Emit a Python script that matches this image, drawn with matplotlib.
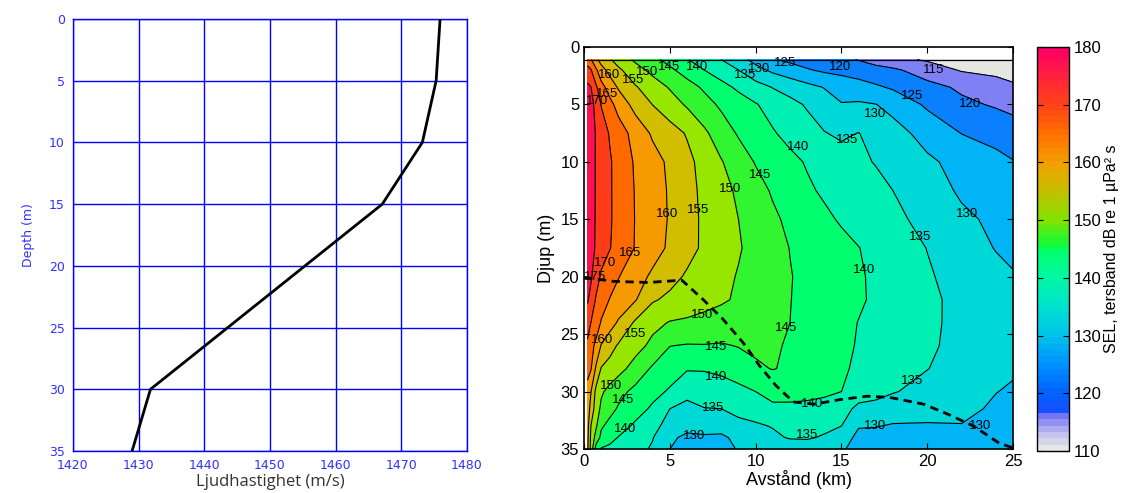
import numpy as np
import matplotlib
matplotlib.use("Agg")
import matplotlib.pyplot as plt
from matplotlib.colors import LinearSegmentedColormap, Normalize
from matplotlib.cm import ScalarMappable

plt.rcParams["font.family"] = ["Liberation Sans", "DejaVu Sans"]

# ----------------------------
# Sound speed profile
# ----------------------------
profile_depth = [0, 5, 10, 15, 30, 35]
profile_speed = [1475.9, 1475.3, 1473.2, 1467.1, 1431.8, 1429.0]

# ----------------------------
# SEL field (dB re 1 uPa^2 s), rows = depth, columns = range
# ----------------------------
range_km = [0.2, 0.4, 0.7, 1, 1.5, 2, 3, 4, 5, 6, 7, 8, 9, 10, 11, 12, 13,
            14, 15, 16, 17, 18, 20, 22, 24, 25]
depth_m = [1.1, 2, 3.5, 5, 7.5, 10, 12.5, 15, 17.5, 20, 22, 24, 26, 28, 30,
           31.5, 33, 34, 35]

sel_z01 = [167, 165.5, 161, 158.2, 155.5, 153, 149.1, 146.3, 143.4, 140.3, 137.6, 135, 131.8, 128.5, 125.3, 124, 123, 122, 120.9, 119.8, 118, 116.2, 114.5, 113.5, 112.5, 112]
sel_z02 = [172, 170.4, 165.8, 161.8, 158.4, 155.9, 151.9, 148.6, 145.9, 143, 140, 137.5, 135, 131.6, 129, 127.2, 125.4, 124.2, 123.4, 122.6, 121.7, 120.9, 117.5, 114.6, 113.9, 113.5]
sel_z03 = [176, 175.1, 170.8, 166.8, 162.8, 159.5, 155.4, 152.5, 149.6, 146.9, 144.3, 141.6, 139.1, 136.9, 134.8, 133.1, 131.4, 129.8, 128.4, 127.1, 125.7, 124.4, 121.6, 119.2, 116.8, 115.6]
sel_z05 = [177, 176.4, 173.8, 169.8, 166.5, 163.2, 158.2, 154.9, 152.2, 149.4, 146.7, 144.2, 142.3, 140.3, 138.3, 136.4, 134.5, 132.3, 130.2, 130.6, 130.1, 128.5, 124.2, 121, 119.5, 118.5]
sel_z07 = [178.5, 176.7, 174.7, 172.4, 169.6, 167.4, 163.1, 159.3, 157.0, 154.6, 150.9, 147.4, 144.5, 142.4, 140.4, 138.6, 136.9, 135.2, 134.2, 135.1, 133.5, 131.8, 128.3, 124.9, 123.3, 122.5]
sel_z10 = [179, 177, 174.6, 172.8, 170.5, 168.3, 164.4, 161.8, 159.1, 156.3, 153.3, 150.3, 147.4, 144.7, 142.9, 141.2, 139.6, 138.3, 137.0, 135.7, 134.8, 133.6, 130.8, 128.5, 126.4, 125.2]
sel_z12 = [179, 177, 174.6, 172.8, 170.5, 168.4, 164.7, 162.1, 159.5, 156.6, 153.9, 151.6, 149.2, 146.7, 144.5, 142.6, 140.7, 139.35, 138.3, 137.2, 136.1, 135, 132.0, 129.4, 127.9, 127]
sel_z15 = [179, 177, 174.5, 172.7, 170.5, 168.5, 164.8, 162.2, 159.6, 156.7, 154.2, 152.1, 150, 147.9, 145.8, 144.05, 142.5, 140.9, 139.5, 138.4, 137.2, 136.1, 133.6, 130.8, 129.2, 128.5]
sel_z17 = [178.5, 176.5, 174.5, 172.6, 170.2, 168.3, 164.7, 162, 159.2, 156.6, 154.2, 152.3, 150.4, 148.5, 146.7, 144.9, 143.7, 142.5, 141.3, 140.1, 138.8, 137.5, 134.9, 132.3, 129.8, 129.4]
sel_z20 = [177, 175.6, 172.5, 169.2, 167.2, 165.2, 162, 159.1, 156.5, 154.4, 152.8, 151.2, 149.7, 148.2, 146.7, 145.2, 143.95, 142.8, 141.6, 140.5, 139.25, 138, 135.5, 133.3, 131.3, 130.2]
sel_z22 = [175.5, 173.6, 169.4, 167.3, 164.8, 163.3, 160.3, 155.5, 154, 152.9, 151.7, 150.6, 149.4, 147.9, 146.5, 145.1, 143.9, 142.8, 141.6, 140.5, 139.4, 138.2, 136, 133.7, 131.6, 130.5]
sel_z24 = [172.5, 170, 167.6, 164.6, 162.1, 159.4, 154.2, 151.4, 149.7, 149.2, 148.5, 147.9, 147.1, 146.3, 145.6, 145, 143.7, 142.4, 141.1, 139.9, 138.9, 137.9, 135.9, 133.8, 131.7, 130.6]
sel_z26 = [169, 166.6, 163.9, 159.7, 156.8, 154.5, 151.8, 148.75, 145.1, 144.7, 144.8, 144.6, 145.2, 146, 145.6, 144.5, 143.3, 142.1, 140.9, 139.7, 138.7, 137.7, 135.7, 133.7, 131.6, 130.6]
sel_z28 = [166, 165.4, 159.2, 154.7, 153.2, 151.7, 148, 144.3, 142.3, 140.4, 140.5, 141.3, 142.6, 144.2, 145.2, 144.3, 143.2, 141.8, 140.5, 139.4, 138.3, 137.3, 135.1, 133.3, 131.4, 130.5]
sel_z30 = [164, 160.2, 153.7, 150.7, 148.5, 146.5, 143.7, 141.5, 139.4, 136.2, 136.3, 137.2, 138.6, 140.0, 140.8, 141.1, 141.1, 140.7, 140, 138.4, 136.9, 135.3, 133.5, 131.8, 130.1, 129.5]
sel_z31 = [163, 158.2, 152.6, 149, 146.5, 144.5, 142, 139.2, 135, 133.8, 134.9, 135, 136, 136.7, 139.5, 139.3, 139, 138.6, 137.7, 133.3, 133, 132.4, 132, 131.2, 129.3, 128.7]
sel_z33 = [162, 155, 150.7, 145.6, 143.6, 142.1, 139.1, 136.2, 133.5, 131.2, 131.7, 131.5, 134, 134.5, 135.2, 136.9, 136.6, 135.9, 135, 130.2, 130.2, 129.6, 129.5, 129.8, 128.4, 128]
sel_z34 = [161.5, 154, 148, 143.9, 141.7, 139.8, 137.5, 135.2, 130.7, 129.2, 129.4, 129.3, 131, 133, 134.3, 135.3, 135.4, 134.6, 131.5, 129.2, 128.5, 128, 127.5, 128.0, 127.5, 127]
sel_z35 = [161, 153.5, 142.8, 139.6, 138.8, 138, 136.4, 134.5, 130, 128.3, 128.5, 128.5, 130.3, 131.2, 132.2, 132.8, 133, 132.4, 130.6, 128.3, 126.5, 125.7, 125.5, 126.2, 126.5, 126.3]

sel_db = np.array([sel_z01, sel_z02, sel_z03, sel_z05, sel_z07, sel_z10, sel_z12,
                   sel_z15, sel_z17, sel_z20, sel_z22, sel_z24, sel_z26, sel_z28,
                   sel_z30, sel_z31, sel_z33, sel_z34, sel_z35])

# dashed line across the section
dash_range = [0.0, 1.7, 3.75, 5.7, 6.95, 8.1, 9.3, 10.25, 11.2, 12.2, 13.4,
              14.9, 16.5, 17.8, 19.8, 21.1, 22.7, 24.2, 25.0]
dash_depth = [20.05, 20.4, 20.5, 20.3, 22.0, 23.7, 25.8, 27.8, 29.5, 30.9, 31.1,
              30.7, 30.4, 30.5, 31.1, 31.9, 33.0, 34.5, 34.9]

# contour labels: level and where it sits
label_level = [160, 155, 150, 145, 140, 135, 130, 125, 120, 115, 165, 170, 125,
               120, 130, 135, 140, 145, 150, 155, 160, 130, 135, 140, 165, 170,
               175, 160, 155, 150, 145, 145, 140, 135, 130, 150, 145, 140, 140,
               135, 135, 130, 130]
label_range = [1.45, 2.85, 3.67, 4.93, 6.6, 9.4, 10.2, 11.7, 14.9, 20.35, 1.34,
               0.76, 19.1, 22.5, 16.96, 15.3, 12.5, 10.26, 8.5, 6.65, 4.82, 22.3,
               19.6, 16.3, 2.7, 1.2, 0.64, 1.03, 2.97, 6.85, 11.8, 7.7, 7.7, 7.5,
               6.4, 1.6, 2.3, 2.4, 13.3, 13.0, 19.1, 16.95, 23.1]
label_depth = [2.45, 2.9, 2.2, 1.7, 1.7, 2.4, 1.9, 1.4, 1.7, 2.0, 4.1, 4.7, 4.3,
               5.0, 5.8, 8.1, 8.7, 11.1, 12.4, 14.2, 14.5, 14.5, 16.5, 19.4,
               17.9, 18.8, 20.0, 25.5, 25.0, 23.3, 24.5, 26.1, 28.7, 31.4, 33.9,
               29.5, 30.7, 33.3, 31.05, 33.8, 29.1, 33.0, 33.0]

levels = np.arange(110, 185, 5)
band_colors = ["#e6e6e0", "#8080f5", "#0a80ff", "#00b4f5", "#00d8d8",
               "#00f0b4", "#00ff6e", "#30f530", "#96e600", "#d2be00",
               "#f59a00", "#ff6a00", "#ff3c18", "#ff1050"]

cbar_values = [110, 112, 114, 115.5, 116.5, 120, 125, 130, 135, 140, 144.5,
               145, 147, 150, 155, 160, 165, 170, 175, 180]
cbar_colors = ["#e6e6e6", "#c8c8ee", "#9c9cf0", "#7878f4", "#1450ff", "#0064ff",
               "#0094ff", "#00c4e8", "#00e2cc", "#00f8a4", "#00ff70", "#00ff48",
               "#30f428", "#80e400", "#c4c000", "#f2a000", "#ff7200", "#ff4418",
               "#ff2438", "#ff0064"]

fig = plt.figure(figsize=(11.21, 4.93), dpi=100)

# ----------------------------
# Left: sound speed profile
# ----------------------------
ax1 = fig.add_axes([0.0651, 0.0852, 0.3515, 0.8763])
ax1.plot(profile_speed, profile_depth, color="black", lw=2.0, zorder=3)
ax1.set_xlim(1420, 1480)
ax1.set_ylim(35, 0)
ax1.set_xticks(np.arange(1420, 1481, 10))
ax1.set_yticks(np.arange(0, 36, 5))
ax1.grid(True, color="#0000ff", lw=1.0)
for sp in ax1.spines.values():
    sp.set_color("#0000ff")
    sp.set_linewidth(1.0)
ax1.tick_params(length=0, pad=6, labelsize=9, labelcolor="#3030ff")
for t in ax1.get_xticklabels() + ax1.get_yticklabels():
    t.set_family("DejaVu Sans")
ax1.set_ylabel("Depth (m)", color="#3030ff", fontsize=9, family="DejaVu Sans",
               labelpad=10)
ax1.set_xlabel("Ljudhastighet (m/s)", color="#333333", fontsize=12,
               family="Open Sans", labelpad=1)

# ----------------------------
# Right: SEL section
# ----------------------------
ax2 = fig.add_axes([0.521, 0.0892, 0.3827, 0.8154])
R, Z = np.meshgrid(range_km, depth_m)
ax2.contourf(R, Z, sel_db, levels=levels, colors=band_colors)
cs = ax2.contour(R, Z, sel_db, levels=levels, colors="black", linewidths=0.8)
ax2.axhline(depth_m[0], color="black", lw=0.9)

ax2.plot(dash_range, dash_depth, color="black", lw=2, linestyle=(0, (3, 2)))

for lev, r0, z0 in zip(label_level, label_range, label_depth):
    ax2.text(r0, z0, f"{lev}", ha="center", va="center", fontsize=9.5, zorder=5)

ax2.set_xlim(0, 25)
ax2.set_ylim(35, 0)
ax2.set_xticks(np.arange(0, 26, 5))
ax2.set_yticks(np.arange(0, 36, 5))
ax2.tick_params(direction="in", top=True, right=True, length=4, labelsize=12)
for sp in ax2.spines.values():
    sp.set_linewidth(1.2)
ax2.set_xlabel("Avstånd (km)", fontsize=13, labelpad=1)
ax2.set_ylabel("Djup (m)", fontsize=13, labelpad=4)

# ----------------------------
# Colorbar
# ----------------------------
span = cbar_values[-1] - cbar_values[0]
cmap = LinearSegmentedColormap.from_list(
    "sel", [((v - cbar_values[0]) / span, c) for v, c in zip(cbar_values, cbar_colors)],
    N=64)
cax = fig.add_axes([0.925, 0.0852, 0.0285, 0.8195])
cb = fig.colorbar(ScalarMappable(norm=Normalize(110, 180), cmap=cmap), cax=cax)
cb.set_ticks(np.arange(110, 181, 10))
cb.outline.set_linewidth(1.0)
cax.tick_params(direction="in", left=True, right=True, length=4, labelsize=12)
cb.set_label("SEL, tersband dB re 1 µPa² s", fontsize=11.5, labelpad=2)

fig.savefig("out.png", dpi=100)
plt.close(fig)
